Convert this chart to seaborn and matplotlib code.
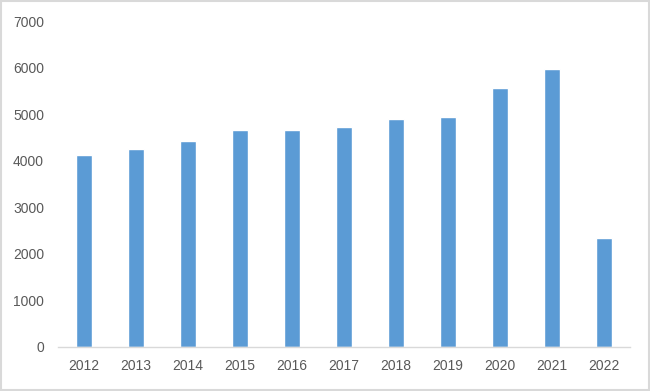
import matplotlib
matplotlib.use("Agg")
import matplotlib.pyplot as plt
import seaborn as sns
import pandas as pd
from matplotlib.patches import Rectangle

years = ["2012", "2013", "2014", "2015", "2016", "2017", "2018", "2019", "2020", "2021", "2022"]
values = [4120, 4260, 4420, 4650, 4650, 4720, 4900, 4940, 5560, 5980, 2340]
yticks = [0, 1000, 2000, 3000, 4000, 5000, 6000, 7000]

sns.set_style("white")
plt.rcParams['font.family'] = ['Liberation Sans', 'DejaVu Sans']

df = pd.DataFrame({"year": years, "value": values})

fig = plt.figure(figsize=(6.5, 3.91), dpi=100)
ax = fig.add_axes([0.0892, 0.1138, 0.969 - 0.0892, 0.9455 - 0.1138])
sns.barplot(data=df, x="year", y="value", color="#5B9BD5", width=0.3,
            saturation=1, ax=ax)

ax.set_ylim(0, 7000)
ax.set_yticks(yticks)
ax.set_yticklabels([str(v) for v in yticks])
ax.set_xlim(-0.5, len(years) - 0.5)
ax.set_xlabel("")
ax.set_ylabel("")
for s in ["top", "right", "left"]:
    ax.spines[s].set_visible(False)
ax.spines["bottom"].set_color("#D9D9D9")
ax.spines["bottom"].set_linewidth(1)
ax.tick_params(axis="both", length=0, labelsize=10, colors="#595959")
ax.tick_params(axis="y", pad=10)
ax.tick_params(axis="x", pad=9)

fig.patches.append(Rectangle((0.002, 0.003), 0.996, 0.994, transform=fig.transFigure,
                             fill=False, edgecolor="#D9D9D9", linewidth=1.5))

fig.savefig("out.png", dpi=100)
